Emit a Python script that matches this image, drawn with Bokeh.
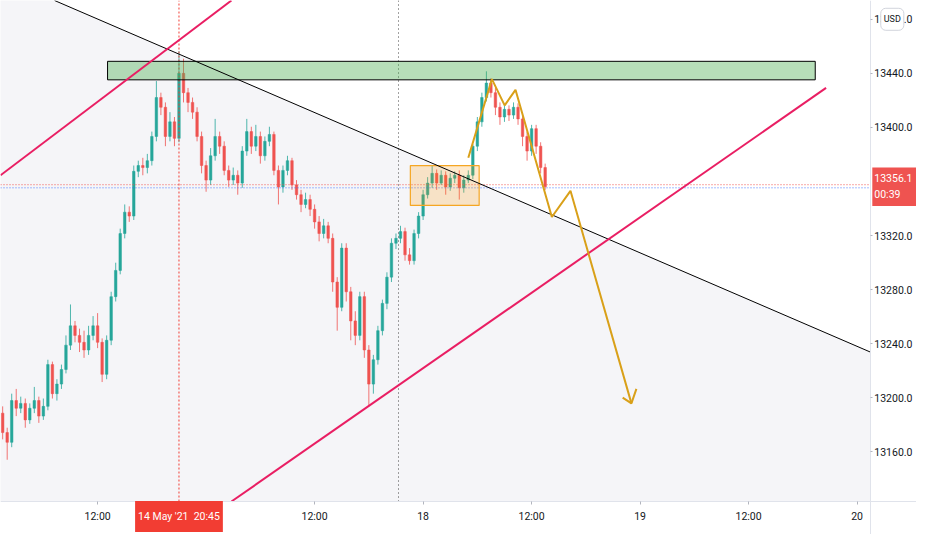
import numpy as np
from bokeh.plotting import figure
from bokeh.models import (Range1d, FixedTicker, Label, PrintfTickFormatter, ColumnDataSource)
from bokeh.embed import file_html
from bokeh.resources import INLINE

# ---------------- data ----------------
# time axis in trading hours relative to 18 May 00:00 (weekend removed), 30-min bars
t_start = -46.5
bar_hours = 0.5

opens = [13188.6, 13174.2, 13167.0, 13197.9, 13192.2, 13195.8, 13183.6, 13192.2, 13197.9, 13186.4,
         13193.6, 13224.5, 13203.0, 13210.1, 13220.9, 13238.9, 13253.2, 13246.1, 13241.0, 13235.3,
         13246.1, 13253.2, 13241.0, 13217.3, 13242.5, 13274.8, 13294.2, 13321.5, 13337.3, 13334.4,
         13367.5, 13371.8, 13370.3, 13375.4, 13393.3, 13422.1, 13414.9, 13393.3, 13404.1, 13391.9,
         13440.0, 13425.7, 13418.5, 13411.3, 13393.3, 13371.8, 13361.0, 13379.0, 13393.3, 13386.1,
         13368.2, 13361.0, 13364.6, 13358.8, 13382.5, 13396.9, 13386.1, 13393.3, 13379.0, 13389.7,
         13394.8, 13368.2, 13356.0, 13368.2, 13375.4, 13357.4, 13350.2, 13343.0, 13346.6, 13339.4,
         13330.1, 13321.5, 13327.2, 13317.9, 13285.6, 13266.9, 13310.7, 13278.4, 13256.8, 13246.1,
         13274.8, 13235.3, 13210.1, 13228.1, 13249.6, 13269.8, 13289.2, 13314.3, 13317.9, 13322.9,
         13305.7, 13301.4, 13321.5, 13334.4, 13350.2, 13358.8, 13366.0, 13358.8, 13364.6, 13356.0,
         13362.4, 13364.6, 13355.3, 13361.0, 13364.6, 13386.1, 13404.1, 13422.1, 13432.8, 13425.7,
         13414.9, 13407.7, 13413.4, 13409.1, 13414.9, 13406.3, 13393.3, 13382.5, 13399.1, 13386.1,
         13370.3]
highs = [13193.6, 13177.8, 13203.0, 13206.5, 13200.8, 13199.4, 13195.8, 13208.0, 13200.8, 13199.4,
         13228.1, 13226.7, 13213.7, 13224.5, 13246.1, 13269.0, 13256.8, 13251.1, 13249.6, 13253.2,
         13260.4, 13262.6, 13243.9, 13246.1, 13278.4, 13299.9, 13325.1, 13343.0, 13341.6, 13371.8,
         13375.4, 13377.5, 13380.4, 13396.9, 13434.3, 13425.7, 13418.5, 13411.3, 13407.7, 13456.5,
         13450.8, 13429.2, 13422.1, 13414.9, 13396.9, 13375.4, 13384.7, 13406.3, 13396.9, 13389.7,
         13371.8, 13370.3, 13368.2, 13386.1, 13406.3, 13400.5, 13401.9, 13396.9, 13393.3, 13400.5,
         13396.9, 13371.8, 13371.8, 13379.0, 13377.5, 13361.0, 13353.8, 13351.7, 13350.2, 13343.0,
         13334.4, 13332.3, 13330.1, 13321.5, 13289.2, 13314.3, 13314.3, 13282.0, 13264.0, 13278.4,
         13278.4, 13238.9, 13231.7, 13253.2, 13272.6, 13292.8, 13317.9, 13321.5, 13327.2, 13325.8,
         13310.7, 13324.4, 13337.3, 13353.8, 13363.2, 13371.8, 13368.9, 13368.2, 13367.5, 13366.0,
         13367.5, 13368.2, 13364.6, 13368.2, 13387.6, 13407.7, 13425.7, 13441.5, 13436.4, 13429.2,
         13418.5, 13416.3, 13416.3, 13418.5, 13417.8, 13409.1, 13396.9, 13401.9, 13401.9, 13389.0,
         13373.2]
lows = [13169.2, 13154.1, 13163.4, 13186.4, 13188.6, 13177.8, 13180.7, 13188.6, 13181.4, 13183.6,
        13190.7, 13199.4, 13197.9, 13206.5, 13218.0, 13235.3, 13241.0, 13233.8, 13229.5, 13231.7,
        13242.5, 13236.7, 13211.6, 13213.7, 13238.9, 13271.2, 13291.3, 13317.9, 13330.1, 13331.5,
        13363.2, 13364.6, 13366.0, 13371.8, 13389.7, 13409.1, 13386.1, 13389.7, 13386.1, 13389.0,
        13418.5, 13411.3, 13406.3, 13389.7, 13366.0, 13352.4, 13357.4, 13375.4, 13380.4, 13364.6,
        13356.0, 13357.4, 13350.2, 13355.3, 13379.0, 13380.4, 13382.5, 13373.2, 13375.4, 13386.1,
        13364.6, 13343.0, 13351.7, 13364.6, 13353.8, 13346.6, 13337.3, 13340.2, 13334.4, 13325.1,
        13315.7, 13317.9, 13314.3, 13278.4, 13249.6, 13264.0, 13271.2, 13242.5, 13238.9, 13242.5,
        13229.5, 13193.6, 13203.0, 13224.5, 13246.1, 13265.5, 13285.6, 13310.0, 13314.3, 13301.4,
        13298.5, 13298.5, 13317.9, 13331.5, 13347.4, 13355.3, 13353.8, 13357.4, 13350.2, 13353.1,
        13358.8, 13346.6, 13351.7, 13358.8, 13361.7, 13382.5, 13400.5, 13419.2, 13422.1, 13409.1,
        13401.9, 13404.1, 13404.8, 13406.3, 13401.9, 13386.1, 13375.4, 13379.0, 13380.4, 13366.0,
        13353.8]
closes = [13174.2, 13167.0, 13197.9, 13192.2, 13195.8, 13183.6, 13192.2, 13197.9, 13186.4, 13193.6,
          13224.5, 13203.0, 13210.1, 13220.9, 13238.9, 13253.2, 13246.1, 13241.0, 13235.3, 13246.1,
          13253.2, 13241.0, 13217.3, 13242.5, 13274.8, 13294.2, 13321.5, 13337.3, 13334.4, 13367.5,
          13371.8, 13370.3, 13375.4, 13393.3, 13422.1, 13414.9, 13393.3, 13404.1, 13391.9, 13440.0,
          13425.7, 13418.5, 13411.3, 13393.3, 13371.8, 13361.0, 13379.0, 13393.3, 13386.1, 13368.2,
          13361.0, 13364.6, 13358.8, 13382.5, 13396.9, 13386.1, 13393.3, 13379.0, 13389.7, 13394.8,
          13368.2, 13356.0, 13368.2, 13375.4, 13357.4, 13350.2, 13343.0, 13346.6, 13339.4, 13330.1,
          13321.5, 13327.2, 13317.9, 13285.6, 13266.9, 13310.7, 13278.4, 13256.8, 13246.1, 13274.8,
          13235.3, 13210.1, 13228.1, 13249.6, 13269.8, 13289.2, 13314.3, 13317.9, 13322.9, 13305.7,
          13301.4, 13321.5, 13334.4, 13350.2, 13358.8, 13366.0, 13358.8, 13364.6, 13356.0, 13362.4,
          13364.6, 13355.3, 13361.0, 13364.6, 13386.1, 13404.1, 13422.1, 13432.8, 13425.7, 13414.9,
          13407.7, 13413.4, 13409.1, 13414.9, 13406.3, 13393.3, 13382.5, 13399.1, 13386.1, 13370.3,
          13356.1]

last_price = 13356.1
countdown = "00:39"
crosshair_time = -27.0
crosshair_label = "14 May '21\u00a0\u00a020:45"
session_line = -2.72

price_ticks = [13160, 13200, 13240, 13280, 13320, 13400, 13440, 13480]
time_ticks = [-36, -12, 0, 12, 24, 36, 48]
time_labels = ["12:00", "12:00", "18", "12:00", "19", "12:00", "20"]

# drawings (time in hours, price)
resist_zone = dict(left=-34.9, right=43.37, bottom=13435.2, top=13448.9)
consol_box = dict(left=-1.41, right=6.2, bottom=13342.3, top=13371.8)
black_trend_t = [-40.76, 49.46]
black_trend_p = [13493.9, 13233.8]
channel_upper_t = [-46.74, -21.20]
channel_upper_p = [13364.6, 13493.9]
channel_lower_t = [-21.20, 44.57]
channel_lower_p = [13123.2, 13429.2]
path_t = [5.0, 7.61, 9.02, 10.22, 14.24, 16.30, 23.04]
path_p = [13377.5, 13435.7, 13416.3, 13427.8, 13333.7, 13353.1, 13195.8]
arrow_t = [22.07, 23.04, 23.59]
arrow_p = [13200.1, 13195.8, 13206.5]

# chart pane edges (where the price and time scales sit) and canvas ranges
pane_right, pane_bottom = 49.46, 13123.2
x_lo, x_hi = -46.74, 54.57
y_lo, y_hi = 13098.8, 13493.9

# ---------------- figure ----------------
FONT = "Roboto"
TXT = "#131722"
BORDER = "#e0e3eb"

p = figure(width=916, height=534, x_range=Range1d(x_lo, x_hi), y_range=Range1d(y_lo, y_hi),
           output_backend="svg", toolbar_location=None, y_axis_location="right",
           min_border_left=0, min_border_top=0, min_border_right=0, min_border_bottom=0)
p.background_fill_color = "white"
p.border_fill_color = "white"
p.outline_line_color = None
p.xgrid.visible = False
p.ygrid.visible = False

# shaded area below the black trend line
slope = (black_trend_p[1] - black_trend_p[0]) / (black_trend_t[1] - black_trend_t[0])
ext_t = [x_lo - 5, pane_right]
ext_p = [black_trend_p[0] + slope * (tt - black_trend_t[0]) for tt in ext_t]
p.patch(x=[ext_t[0], ext_t[1], ext_t[1], ext_t[0]], y=[ext_p[0], ext_p[1], pane_bottom, pane_bottom],
        fill_color="#f5f5f8", line_color=None)

# candles
times = t_start + bar_hours * np.arange(len(closes))
o = np.array(opens); c = np.array(closes); h = np.array(highs); l = np.array(lows)
colors = np.where(c >= o, "#26a69a", "#ef5350")
src = ColumnDataSource(dict(t=times, o=o, h=h, l=l, c=c, top=np.maximum(o, c),
                            bottom=np.minimum(o, c), color=colors))
p.segment(x0="t", y0="h", x1="t", y1="l", line_color="color", line_width=1, line_alpha=0.8, source=src)
p.vbar(x="t", width=0.28, top="top", bottom="bottom", fill_color="color", line_color="color",
       line_width=0.5, source=src)

# price lines and vertical markers (limited to the chart pane)
p.segment(x0=[x_lo], y0=[last_price + 1.5], x1=[pane_right], y1=[last_price + 1.5],
          line_color="#ef5350", line_dash="1 2", line_width=1)
p.segment(x0=[x_lo], y0=[last_price - 0.8], x1=[pane_right], y1=[last_price - 0.8],
          line_color="#2962ff", line_dash="1 2", line_width=1, line_alpha=0.85)
p.segment(x0=[crosshair_time], y0=[pane_bottom], x1=[crosshair_time], y1=[y_hi],
          line_color="#f23d33", line_dash="2 2", line_width=1)
p.segment(x0=[session_line], y0=[pane_bottom], x1=[session_line], y1=[y_hi],
          line_color="#444444", line_dash="1 3", line_width=1)

# drawings
p.quad(**resist_zone, fill_color="#4caf50", fill_alpha=0.4, line_color="black", line_width=1)
p.quad(**consol_box, fill_color="#ff9800", fill_alpha=0.2, line_color="#f5a623", line_width=1.2)
p.line(black_trend_t, black_trend_p, line_color="black", line_width=1)
p.line(channel_upper_t, channel_upper_p, line_color="#e91e63", line_width=2)
p.line(channel_lower_t, channel_lower_p, line_color="#e91e63", line_width=2)
p.line(path_t, path_p, line_color="#d9a019", line_width=2)
p.line(arrow_t, arrow_p, line_color="#d9a019", line_width=2)

# axes placed at the pane edges (price scale on the right, time scale at the bottom)
yax = p.yaxis[0]
yax.fixed_location = pane_right
yax.ticker = FixedTicker(ticks=price_ticks)
yax.formatter = PrintfTickFormatter(format="%.1f")
yax.major_label_text_font_size = "10.5px"
yax.major_tick_out = 2
yax.major_label_standoff = 2
xax = p.xaxis[0]
xax.fixed_location = pane_bottom
xax.ticker = FixedTicker(ticks=time_ticks)
xax.major_label_overrides = {tv: lab for tv, lab in zip(time_ticks, time_labels)}
xax.major_label_text_font_size = "10.5px"
xax.major_tick_out = 3
xax.major_label_standoff = 5
for ax in (xax, yax):
    ax.major_label_text_font = FONT
    ax.major_label_text_color = TXT
    ax.axis_line_color = BORDER
    ax.major_tick_line_color = "#b2b5be"
    ax.major_tick_in = 0
    ax.minor_tick_line_color = None

# labels on the scales
p.add_layout(Label(x=crosshair_time, y=pane_bottom, y_offset=-15, text=crosshair_label,
                   text_align="center", text_baseline="middle", text_color="white",
                   text_font=FONT, text_font_size="10.5px",
                   background_fill_color="#f23d33",
                   padding=dict(left=3, right=3, top=9, bottom=9)))
p.add_layout(Label(x=pane_right, y=last_price, x_offset=2, text=f"{last_price:.1f}\n{countdown}",
                   text_align="left", text_baseline="middle", text_color="white",
                   text_font=FONT, text_font_size="10.5px",
                   background_fill_color="#ef5350",
                   padding=dict(left=2, right=5, top=5, bottom=5)))
p.add_layout(Label(x=pane_right, y=13480, x_offset=22, text="USD",
                   text_align="center", text_baseline="middle", text_color=TXT,
                   text_font=FONT, text_font_size="9px",
                   background_fill_color="white", border_line_color="#d1d4dc",
                   border_radius=5, padding=dict(left=3, right=3, top=6, bottom=6)))

open("out.html", "w").write(file_html(p, INLINE))
